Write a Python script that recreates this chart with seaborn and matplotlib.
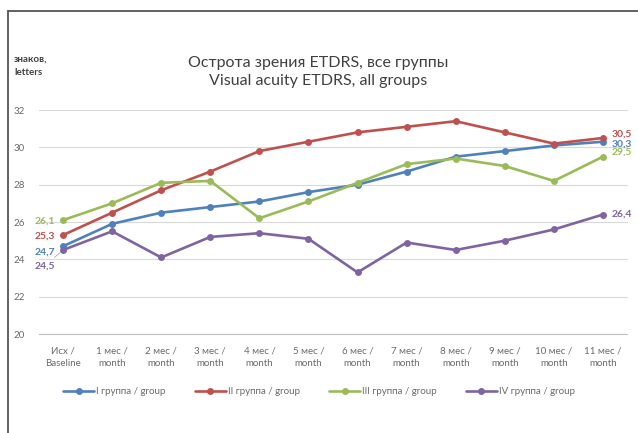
import numpy as np
import pandas as pd
import matplotlib
matplotlib.use("Agg")
import matplotlib.pyplot as plt
import seaborn as sns
from matplotlib.lines import Line2D

# data
periods = ["Исх /\nBaseline", "1 мес /\nmonth", "2 мес /\nmonth", "3 мес /\nmonth",
           "4 мес /\nmonth", "5 мес /\nmonth", "6 мес /\nmonth", "7 мес /\nmonth",
           "8 мес /\nmonth", "9 мес /\nmonth", "10 мес /\nmonth", "11 мес /\nmonth"]
group_names = ["I группа / group", "II группа / group", "III группа / group", "IV группа / group"]
group_1 = [24.7, 25.9, 26.5, 26.8, 27.1, 27.6, 28.0, 28.7, 29.5, 29.8, 30.1, 30.3]
group_2 = [25.3, 26.5, 27.7, 28.7, 29.8, 30.3, 30.8, 31.1, 31.4, 30.8, 30.2, 30.5]
group_3 = [26.1, 27.0, 28.1, 28.2, 26.2, 27.1, 28.1, 29.1, 29.4, 29.0, 28.2, 29.5]
group_4 = [24.5, 25.5, 24.1, 25.2, 25.4, 25.1, 23.3, 24.9, 24.5, 25.0, 25.6, 26.4]
start_labels = ["24,7", "25,3", "26,1", "24,5"]
end_labels = ["30,3", "30,5", "29,5", "26,4"]

colors = ["#4F81BD", "#C0504D", "#9BBB59", "#8064A2"]
text_grey = "#6b6b6b"

sns.set_theme(style="white")
plt.rcParams["font.family"] = ["Lato", "DejaVu Sans"]

series = [group_1, group_2, group_3, group_4]
df = pd.DataFrame({
    "pos": np.tile(np.arange(len(periods)), len(group_names)),
    "value": np.concatenate(series),
    "group": np.repeat(group_names, len(periods)),
})

fig = plt.figure(figsize=(6.38, 4.33), dpi=100)
ax = fig.add_axes([38.5 / 638, 1 - 334 / 433, 589 / 638, 224 / 433])

sns.lineplot(data=df, x="pos", y="value", hue="group", hue_order=group_names,
             palette=colors, marker="o", markersize=5, markeredgewidth=0,
             linewidth=1.9, legend=False, ax=ax)

ax.set_xlim(-0.5, 11.5)
ax.set_ylim(20, 32)
ax.set_yticks(np.arange(20, 33, 2))
ax.set_xticks(np.arange(len(periods)))
ax.set_xticklabels(periods, linespacing=1.45)
ax.tick_params(axis="x", length=0, pad=9, labelsize=7, labelcolor=text_grey)
ax.tick_params(axis="y", length=0, pad=10, labelsize=7, labelcolor=text_grey)
ax.set_xlabel("")
ax.set_ylabel("")
ax.yaxis.grid(True, color="#D9D9D9", linewidth=0.8)
for s in ["top", "right", "left"]:
    ax.spines[s].set_visible(False)
ax.spines["bottom"].set_color("#BFBFBF")
ax.spines["bottom"].set_linestyle((0, (1, 1)))
ax.spines["bottom"].set_linewidth(0.8)

# value labels at both ends of each line
start_offsets = [(-6, -4), (-6, -1), (-6, -1), (-6, -11.5)]
end_offsets = [(6.5, -2), (6.5, 3), (6.5, 3), (6.5, 0)]
for i, vals in enumerate(series):
    arrow = None
    if i == 3:
        arrow = dict(arrowstyle="-", color="#A6A6A6", linewidth=0.6, shrinkA=1, shrinkB=3)
    ax.annotate(start_labels[i], xy=(0, vals[0]), xytext=start_offsets[i],
                textcoords="offset points", ha="right", va="center",
                fontsize=7.5, fontweight="bold", color=colors[i], arrowprops=arrow)
    ax.annotate(end_labels[i], xy=(len(periods) - 1, vals[-1]), xytext=end_offsets[i],
                textcoords="offset points", ha="left", va="center",
                fontsize=7.5, fontweight="bold", color=colors[i], annotation_clip=False)

fig.text(0.498, 1 - 72 / 433, "Острота зрения ETDRS, все группы\nVisual acuity ETDRS, all groups",
         ha="center", va="center", fontsize=11.5, color="#404040", linespacing=1.3)
fig.text(14 / 638, 1 - 66 / 433, "знаков,\nletters", ha="left", va="center",
         fontsize=7, fontweight="bold", color="#404040", linespacing=1.6)

handles = [Line2D([0], [0], color=c, linewidth=1.9, marker="o", markersize=5,
                  markeredgewidth=0) for c in colors]
fig.legend(handles, group_names, loc="center", bbox_to_anchor=(0.5, 1 - 392 / 433),
           ncol=4, frameon=False, fontsize=7, handlelength=3.2, columnspacing=3.0,
           handletextpad=0.2, labelcolor=text_grey)

# frame of the original slide (top and left edge visible)
fig.add_artist(Line2D([8 / 638, 1], [1 - 11 / 433, 1 - 11 / 433], transform=fig.transFigure,
                      color="#555555", linewidth=1.3))
fig.add_artist(Line2D([8 / 638, 8 / 638], [0, 1 - 11 / 433], transform=fig.transFigure,
                      color="#555555", linewidth=1.3))

fig.savefig("out.png", dpi=100)
